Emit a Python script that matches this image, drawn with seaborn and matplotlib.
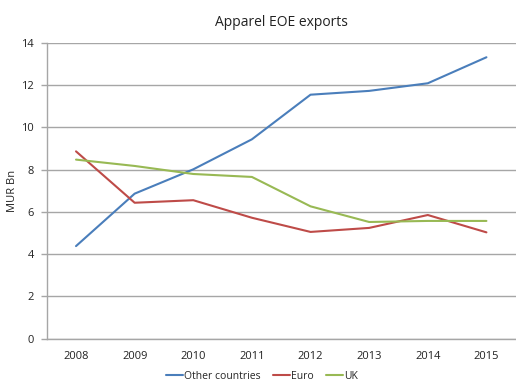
import matplotlib
matplotlib.use("Agg")
import matplotlib.pyplot as plt
import seaborn as sns
import pandas as pd

# Apparel EOE exports by destination, MUR billion
years = ["2008", "2009", "2010", "2011", "2012", "2013", "2014", "2015"]
other_countries = [4.38, 6.86, 8.01, 9.43, 11.54, 11.72, 12.08, 13.31]
euro = [8.86, 6.43, 6.55, 5.72, 5.05, 5.24, 5.85, 5.03]
uk = [8.47, 8.17, 7.79, 7.65, 6.26, 5.52, 5.57, 5.57]
series_names = ["Other countries", "Euro", "UK"]
colors = ["#4a7ebb", "#be4b48", "#98b954"]

df = pd.DataFrame({
    "Year": years * 3,
    "Value": other_countries + euro + uk,
    "Series": [series_names[0]] * 8 + [series_names[1]] * 8 + [series_names[2]] * 8,
})
df["pos"] = [i for i in range(8)] * 3

sns.set_theme(style="white")
plt.rcParams["font.family"] = ["Open Sans", "DejaVu Sans"]

fig = plt.figure(figsize=(5.16, 3.81), dpi=100)
ax = fig.add_axes([0.0905, 0.111, 0.909, 0.777])

sns.lineplot(data=df, x="pos", y="Value", hue="Series", hue_order=series_names,
             palette=colors, linewidth=1.5, ax=ax, legend=False, sort=False)

grid_c = "#a6a6a6"
ax.set_xlim(-0.5, 7.5)
ax.set_ylim(0, 14)
ax.set_yticks(range(0, 15, 2))
ax.set_yticklabels([str(v) for v in range(0, 15, 2)], fontsize=8, color="#222222")
ax.set_xticks(range(8))
ax.set_xticklabels(years, fontsize=8, color="#222222")
ax.set_xticks([i - 0.5 for i in range(9)], minor=True)
ax.tick_params(axis="x", which="major", length=0, pad=9)
ax.tick_params(axis="x", which="minor", length=4, color=grid_c, width=1, direction="out")
ax.tick_params(axis="y", which="major", length=4, color=grid_c, width=1, direction="out", pad=5, left=True)
ax.grid(axis="y", color=grid_c, linewidth=1)
ax.set_axisbelow(True)
for s in ["top", "right"]:
    ax.spines[s].set_visible(False)
for s in ["left", "bottom"]:
    ax.spines[s].set_color(grid_c)
    ax.spines[s].set_linewidth(1)

ax.set_xlabel("")
ax.set_ylabel("")
fig.text(0.024, 0.5, "MUR Bn", rotation=90, fontsize=8, color="#222222",
         ha="center", va="center")
ax.set_title("Apparel EOE exports", fontsize=10, color="#222222", pad=12)

handles = [plt.Line2D([], [], color=c, linewidth=1.5) for c in colors]
fig.legend(handles, series_names, loc="center", bbox_to_anchor=(0.508, 0.012), ncol=3,
           frameon=False, fontsize=7.5, handlelength=1.6, handletextpad=0.1, columnspacing=1.2)

fig.savefig("out.png", dpi=100)
